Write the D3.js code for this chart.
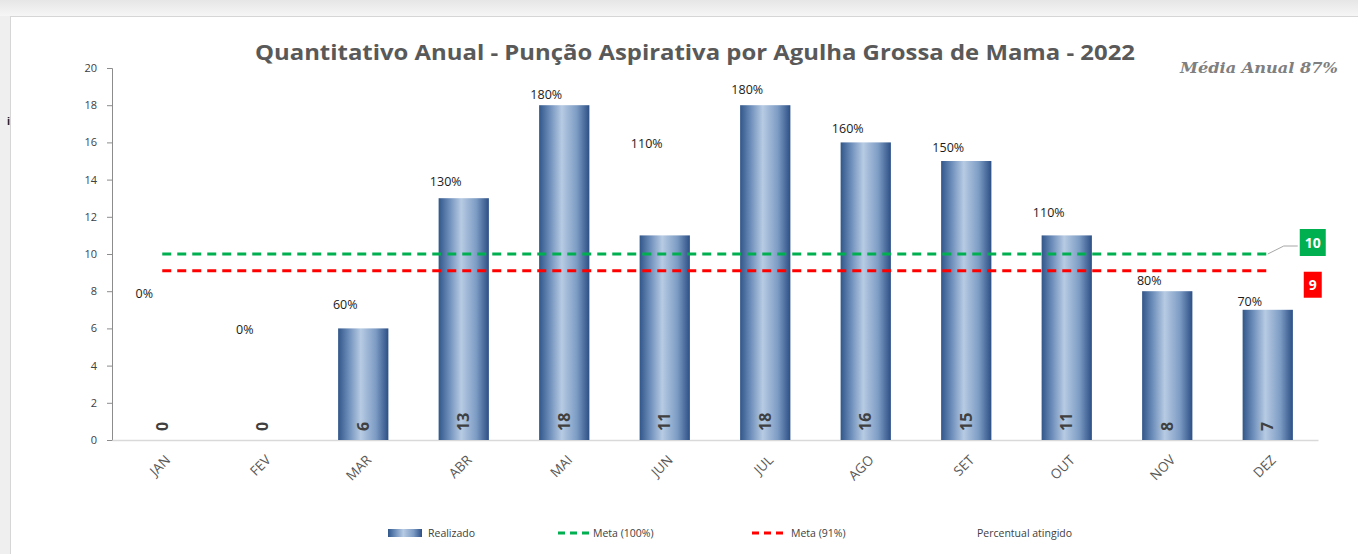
<!DOCTYPE html>
<html><head><meta charset="utf-8">
<script src="https://cdn.jsdelivr.net/npm/d3@7"></script>
<style>
html,body{margin:0;padding:0;background:#fff;}
svg{display:block;}
</style></head>
<body>
<svg id="chart" width="1358" height="554"></svg>
<script>
const months = ["JAN","FEV","MAR","ABR","MAI","JUN","JUL","AGO","SET","OUT","NOV","DEZ"];
const realizado = [0,0,6,13,18,11,18,16,15,11,8,7];
const percentual = [0,0,60,130,180,110,180,160,150,110,80,70];
// vertical anchor of each percentage label, in y-axis units (as placed in the original)
const pctLabelAt = [7.85,5.95,7.3,13.9,18.55,15.95,18.85,16.75,15.7,12.25,8.55,7.45];
const meta100 = 10;
const meta91 = 9.1;
const meta91Label = "9";
const yTicks = [0,2,4,6,8,10,12,14,16,18,20];
const title = "Quantitativo Anual - Punção Aspirativa por Agulha Grossa de Mama - 2022";
const mediaText = "Média Anual 87%";

const svg = d3.select("#chart");
const W = 1358, H = 554;

// page background / frame
svg.append("rect").attr("x",0).attr("y",0).attr("width",W).attr("height",H).attr("fill","#efefef");
const topGrad = svg.append("defs").append("linearGradient").attr("id","topg").attr("x1",0).attr("y1",0).attr("x2",0).attr("y2",1);
topGrad.append("stop").attr("offset","0%").attr("stop-color","#e6e6e6");
topGrad.append("stop").attr("offset","100%").attr("stop-color","#f6f6f6");
svg.append("rect").attr("x",0).attr("y",0).attr("width",W).attr("height",16).attr("fill","url(#topg)");
svg.append("rect").attr("x",10.5).attr("y",16.5).attr("width",W).attr("height",H).attr("fill","#fff").attr("stroke","#d6d6d6");
svg.append("text").attr("x",7).attr("y",125).attr("font-family","Liberation Sans").attr("font-weight","bold").attr("font-size",11).attr("fill","#222").text("i");

const defs = svg.append("defs");
const bg = defs.append("linearGradient").attr("id","barg").attr("x1",0).attr("y1",0).attr("x2",1).attr("y2",0);
bg.append("stop").attr("offset","0%").attr("stop-color","#315689");
bg.append("stop").attr("offset","18%").attr("stop-color","#6486b4");
bg.append("stop").attr("offset","45%").attr("stop-color","#b7cbe3");
bg.append("stop").attr("offset","75%").attr("stop-color","#7d9cc4");
bg.append("stop").attr("offset","100%").attr("stop-color","#2c4f85");

const x = d3.scaleBand().domain(months).range([112,1318]).paddingInner(0.5).paddingOuter(0.25);
const y = d3.scaleLinear().domain([0,20]).range([440,68]);

// title
svg.append("text").attr("x",695).attr("y",60).attr("text-anchor","middle")
  .attr("font-family","Open Sans, sans-serif").attr("font-weight","bold").attr("font-size",22)
  .attr("fill","#595959").attr("textLength",880).attr("lengthAdjust","spacingAndGlyphs").text(title);
svg.append("text").attr("x",1338).attr("y",73).attr("text-anchor","end")
  .attr("font-family","DejaVu Serif, serif").attr("font-style","italic").attr("font-weight","bold")
  .attr("font-size",14).attr("fill","#7f7f7f").attr("textLength",158).attr("lengthAdjust","spacingAndGlyphs").text(mediaText);

// y axis
const yAxis = d3.axisLeft(y).tickValues(yTicks).tickSize(5).tickPadding(10);
const ya = svg.append("g").attr("transform","translate(112,0)").call(yAxis);
ya.select(".domain").attr("stroke","#8c8c8c");
ya.selectAll(".tick line").attr("stroke","#8c8c8c");
ya.selectAll(".tick text").attr("font-family","Open Sans, sans-serif").attr("font-size",11).attr("fill","#404040");

// x axis
const xAxis = d3.axisBottom(x).tickSize(0).tickFormat(()=>"");
const xa = svg.append("g").attr("transform","translate(0,440)").call(xAxis);
xa.select(".domain").attr("stroke","#d9d9d9").attr("stroke-width",1.5);
svg.append("g").selectAll("text").data(months).join("text")
  .attr("transform", d => `translate(${x(d)+x.bandwidth()/2+1},453) rotate(-45)`)
  .attr("text-anchor","end").attr("dominant-baseline","hanging")
  .attr("font-family","Open Sans, sans-serif").attr("font-size",13.5).attr("fill","#595959").text(d=>d);

// bars
svg.append("g").selectAll("rect").data(realizado).join("rect")
  .attr("x",(d,i)=>x(months[i])).attr("width",x.bandwidth())
  .attr("y",d=>y(d)).attr("height",d=>y(0)-y(d)).attr("fill","url(#barg)");

// bar value labels (inside base, rotated)
svg.append("g").selectAll("text").data(realizado).join("text")
  .attr("transform",(d,i)=>`translate(${x(months[i])+x.bandwidth()/2+5.5},431) rotate(-90)`)
  .attr("text-anchor","start")
  .attr("font-family","Open Sans, sans-serif").attr("font-weight","bold").attr("font-size",16).attr("fill","#404040").text(d=>d);

// meta lines
const lineGen = d3.line().x(d=>x(d.m)+x.bandwidth()/2).y(d=>y(d.v));
svg.append("path").datum(months.map(m=>({m,v:meta100}))).attr("d",lineGen)
  .attr("fill","none").attr("stroke","#00b050").attr("stroke-width",3).attr("stroke-dasharray","9,6");
svg.append("path").datum(months.map(m=>({m,v:meta91}))).attr("d",lineGen)
  .attr("fill","none").attr("stroke","#ff0000").attr("stroke-width",3).attr("stroke-dasharray","9,6");

// end labels
const lastX = x(months[11])+x.bandwidth()/2;
svg.append("path").attr("d",`M${lastX},${y(meta100)} L${lastX+16},${y(meta100)-8} L${lastX+30},${y(meta100)-8}`)
  .attr("fill","none").attr("stroke","#a6a6a6").attr("stroke-width",1);
svg.append("rect").attr("x",lastX+32).attr("y",y(meta100)-25).attr("width",26).attr("height",27).attr("fill","#00b050");
svg.append("text").attr("x",lastX+45).attr("y",y(meta100)-6.5).attr("text-anchor","middle")
  .attr("font-family","Open Sans, sans-serif").attr("font-weight","bold").attr("font-size",14).attr("fill","#fff").text(meta100);
svg.append("rect").attr("x",lastX+36).attr("y",y(meta91)+1).attr("width",18).attr("height",26).attr("fill","#ff0000");
svg.append("text").attr("x",lastX+45).attr("y",y(meta91)+19.5).attr("text-anchor","middle")
  .attr("font-family","Open Sans, sans-serif").attr("font-weight","bold").attr("font-size",14).attr("fill","#fff").text(meta91Label);

// percentage labels
svg.append("g").selectAll("text").data(percentual).join("text")
  .attr("x",(d,i)=>x(months[i])+x.bandwidth()/2-18)
  .attr("y",(d,i)=>y(pctLabelAt[i]))
  .attr("dy","0.35em").attr("text-anchor","middle")
  .attr("font-family","Open Sans, sans-serif").attr("font-size",12.5).attr("fill","#1a1a1a").text(d=>d+"%");

// legend
const lg = svg.append("g").attr("font-family","Open Sans, sans-serif").attr("font-size",10.5).attr("fill","#404040");
lg.append("rect").attr("x",388).attr("y",529).attr("width",34).attr("height",8).attr("fill","url(#barg)");
lg.append("text").attr("x",428).attr("y",537).text("Realizado");
lg.append("line").attr("x1",558).attr("x2",589).attr("y1",533).attr("y2",533).attr("stroke","#00b050").attr("stroke-width",3).attr("stroke-dasharray","7,5");
lg.append("text").attr("x",593).attr("y",537).text("Meta (100%)");
lg.append("line").attr("x1",752).attr("x2",783).attr("y1",533).attr("y2",533).attr("stroke","#ff0000").attr("stroke-width",3).attr("stroke-dasharray","7,5");
lg.append("text").attr("x",791).attr("y",537).text("Meta (91%)");
lg.append("text").attr("x",977).attr("y",537).text("Percentual atingido");
</script>
</body></html>
